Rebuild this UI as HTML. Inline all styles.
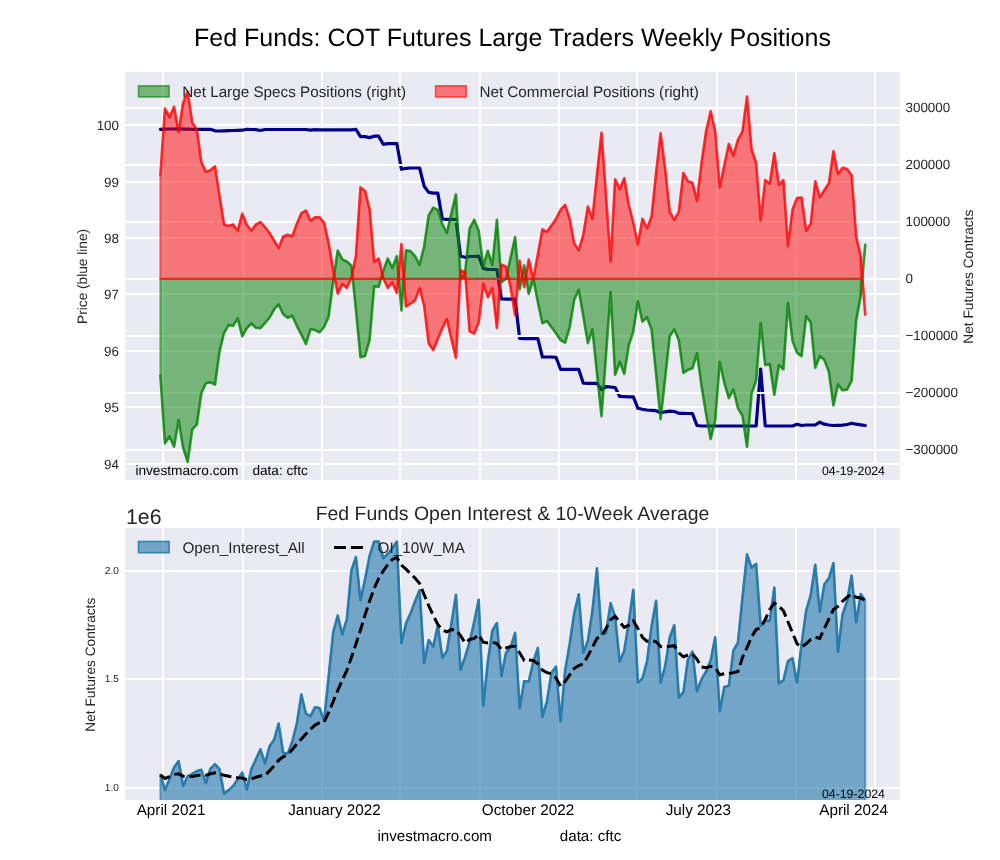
<!DOCTYPE html>
<html><head><meta charset="utf-8"><title>Fed Funds COT</title>
<style>html,body{margin:0;padding:0;background:#fff;}svg{display:block;text-rendering:geometricPrecision;}</style>
</head><body>
<svg style="will-change:transform" width="1000" height="860" viewBox="0 0 1000 860" font-family='"Liberation Sans", sans-serif'><rect x="0" y="0" width="1000" height="860" fill="#ffffff"/><text x="512.5" y="45.8" font-size="25" text-anchor="middle" fill="#000">Fed Funds: COT Futures Large Traders Weekly Positions</text><defs><clipPath id="ct"><rect x="125" y="72" width="775" height="408"/></clipPath><clipPath id="cb"><rect x="125" y="528" width="775" height="272"/></clipPath></defs><rect x="125" y="72" width="775" height="408" fill="#EAEAF2"/><g stroke="#ffffff" stroke-width="2"><line x1="163" y1="72" x2="163" y2="480"/><line x1="243" y1="72" x2="243" y2="480"/><line x1="322" y1="72" x2="322" y2="480"/><line x1="400" y1="72" x2="400" y2="480"/><line x1="480" y1="72" x2="480" y2="480"/><line x1="559" y1="72" x2="559" y2="480"/><line x1="637" y1="72" x2="637" y2="480"/><line x1="717" y1="72" x2="717" y2="480"/><line x1="796" y1="72" x2="796" y2="480"/><line x1="875" y1="72" x2="875" y2="480"/><line x1="125" y1="125" x2="900" y2="125"/><line x1="125" y1="182" x2="900" y2="182"/><line x1="125" y1="238" x2="900" y2="238"/><line x1="125" y1="294" x2="900" y2="294"/><line x1="125" y1="351" x2="900" y2="351"/><line x1="125" y1="407" x2="900" y2="407"/><line x1="125" y1="464" x2="900" y2="464"/></g><g font-size="13.4" fill="#262626" text-anchor="end"><text x="119" y="129.8">100</text><text x="119" y="186.8">99</text><text x="119" y="242.8">98</text><text x="119" y="298.8">97</text><text x="119" y="355.8">96</text><text x="119" y="411.8">95</text><text x="119" y="468.8">94</text></g><g font-size="13.4" fill="#262626"><text x="905.5" y="112.1">300000</text><text x="905.5" y="169.1">200000</text><text x="905.5" y="226.1">100000</text><text x="905.5" y="283.1">0</text><text x="905.5" y="340.1">−100000</text><text x="905.5" y="397.1">−200000</text><text x="905.5" y="454.1">−300000</text></g><text transform="translate(87,276.4) rotate(-90)" font-size="13.7" fill="#262626" text-anchor="middle">Price (blue line)</text><text transform="translate(973,276.7) rotate(-90)" font-size="13.7" fill="#262626" text-anchor="middle">Net Futures Contracts</text><g clip-path="url(#ct)"><polyline points="160.40,129.30 164.95,129.20 169.50,129.00 174.04,129.00 178.59,128.90 183.14,129.10 187.69,129.20 192.23,129.30 196.78,129.30 201.33,129.30 205.88,129.30 210.42,129.30 214.97,130.80 219.52,131.00 224.06,130.90 228.61,130.70 233.16,130.50 237.71,130.40 242.25,130.20 246.80,129.30 251.35,129.50 255.90,129.70 260.44,130.50 264.99,129.50 269.54,129.50 274.09,129.50 278.63,129.50 283.18,129.50 287.73,129.50 292.28,129.50 296.83,129.50 301.37,129.50 305.92,129.50 310.47,130.10 315.01,129.70 319.56,129.90 324.11,129.90 328.66,129.90 333.21,129.90 337.75,129.90 342.30,129.90 346.85,129.90 351.39,129.90 355.94,129.30 360.49,136.60 365.04,136.60 369.59,137.60 374.13,136.20 378.68,136.20 383.23,144.30 387.78,143.60 392.32,143.60 396.87,143.60 401.42,169.30 405.97,168.30 410.51,168.00 415.06,168.00 419.61,168.00 424.15,186.20 428.70,192.40 433.25,193.10 437.80,193.10 442.35,219.00 446.89,219.40 451.44,219.40 455.99,219.60 460.54,256.20 465.08,257.30 469.63,256.50 474.18,256.50 478.73,256.20 483.27,268.40 487.82,269.50 492.37,269.50 496.92,269.50 501.46,299.00 506.01,299.20 510.56,299.20 515.11,299.20 519.65,338.50 524.20,338.70 528.75,338.70 533.30,338.70 537.84,338.70 542.39,357.00 546.94,357.00 551.49,357.00 556.03,357.30 560.58,369.40 565.13,369.40 569.68,369.40 574.22,369.40 578.77,369.40 583.32,383.20 587.87,383.30 592.41,383.30 596.96,383.30 601.51,389.60 606.06,386.60 610.60,387.00 615.15,387.60 619.70,396.50 624.25,396.70 628.79,396.80 633.34,396.90 637.89,408.30 642.44,409.30 646.98,410.00 651.53,410.30 656.08,410.70 660.62,412.70 665.17,411.80 669.72,411.10 674.27,411.50 678.82,413.30 683.36,413.40 687.91,413.50 692.46,413.60 697.00,425.50 701.55,426.00 706.10,426.00 710.65,426.00 715.20,426.00 719.74,426.00 724.29,426.00 728.84,426.00 733.38,426.00 737.93,426.00 742.48,426.00 747.03,426.00 751.58,426.00 756.12,425.80 760.67,369.00 765.22,425.80 769.76,426.00 774.31,426.00 778.86,426.00 783.41,426.00 787.96,426.00 792.50,426.00 797.05,424.20 801.60,425.50 806.14,425.00 810.69,425.00 815.24,425.00 819.79,422.20 824.34,424.20 828.88,425.00 833.43,425.50 837.98,425.30 842.52,425.10 847.07,424.50 851.62,423.20 856.17,424.20 860.72,424.80 865.26,425.50" fill="none" stroke="#00008B" stroke-width="3.2" stroke-linejoin="round" stroke-linecap="round"/><g stroke="#ffffff" stroke-width="2"><line x1="125" y1="108" x2="900" y2="108"/><line x1="125" y1="165" x2="900" y2="165"/><line x1="125" y1="222" x2="900" y2="222"/><line x1="125" y1="279" x2="900" y2="279"/><line x1="125" y1="336" x2="900" y2="336"/><line x1="125" y1="393" x2="900" y2="393"/><line x1="125" y1="450" x2="900" y2="450"/></g><polygon points="160.40,278.9 160.40,375.80 164.95,443.30 169.50,436.30 174.04,446.70 178.59,420.00 183.14,447.90 187.69,461.90 192.23,429.30 196.78,424.70 201.33,393.30 205.88,383.30 210.42,382.30 214.97,384.70 219.52,351.40 224.06,332.80 228.61,325.10 233.16,325.80 237.71,318.40 242.25,336.30 246.80,328.10 251.35,323.50 255.90,327.70 260.44,328.10 264.99,323.00 269.54,317.70 274.09,309.50 278.63,304.40 283.18,314.20 287.73,317.70 292.28,315.80 296.83,325.80 301.37,334.70 305.92,344.00 310.47,329.30 315.01,330.00 319.56,332.30 324.11,327.00 328.66,316.40 333.21,281.00 337.75,250.50 342.30,259.40 346.85,261.50 351.39,265.60 355.94,309.50 360.49,357.20 365.04,356.00 369.59,339.80 374.13,286.30 378.68,286.70 383.23,271.00 387.78,258.50 392.32,268.00 396.87,256.20 401.42,310.50 405.97,250.40 410.51,251.10 415.06,256.20 419.61,265.00 424.15,246.30 428.70,215.40 433.25,207.60 437.80,209.80 442.35,224.20 446.89,233.00 451.44,213.10 455.99,194.40 460.54,279.40 465.08,272.80 469.63,228.60 474.18,219.80 478.73,230.80 483.27,266.20 487.82,250.80 492.37,265.00 496.92,219.80 501.46,282.30 506.01,278.80 510.56,257.90 515.11,237.00 519.65,289.30 524.20,265.50 528.75,294.00 533.30,278.80 537.84,302.00 542.39,323.20 546.94,321.00 551.49,327.30 556.03,333.20 560.58,340.20 565.13,342.70 569.68,327.30 574.22,299.60 578.77,289.80 583.32,316.40 587.87,343.10 592.41,329.30 596.96,372.80 601.51,416.20 606.06,354.20 610.60,292.10 615.15,374.70 619.70,361.90 624.25,373.80 628.79,345.10 633.34,331.30 637.89,301.20 642.44,321.60 646.98,317.20 651.53,329.30 656.08,373.80 660.62,419.20 665.17,377.70 669.72,336.20 674.27,329.30 678.82,340.20 683.36,372.80 687.91,369.80 692.46,368.30 697.00,353.20 701.55,386.00 706.10,414.00 710.65,439.00 715.20,420.20 719.74,361.70 724.29,382.70 728.84,398.10 733.38,389.30 737.93,408.10 742.48,415.80 747.03,446.80 751.58,393.70 756.12,380.50 760.67,323.00 765.22,365.00 769.76,363.90 774.31,394.80 778.86,365.00 783.41,369.40 787.96,303.10 792.50,340.70 797.05,352.90 801.60,356.10 806.14,316.40 810.69,322.40 815.24,367.80 819.79,356.00 824.34,359.90 828.88,371.80 833.43,405.40 837.98,384.20 842.52,390.20 847.07,389.60 851.62,380.70 856.17,320.40 860.72,295.70 860.72,278.9" fill="#008000" fill-opacity="0.5"/><path d="M160.40,375.80 L160.40,278.9 L860.72,278.9 L860.72,295.70" fill="none" stroke="#008000" stroke-opacity="0.5" stroke-width="2.2"/><polyline points="160.40,375.80 164.95,443.30 169.50,436.30 174.04,446.70 178.59,420.00 183.14,447.90 187.69,461.90 192.23,429.30 196.78,424.70 201.33,393.30 205.88,383.30 210.42,382.30 214.97,384.70 219.52,351.40 224.06,332.80 228.61,325.10 233.16,325.80 237.71,318.40 242.25,336.30 246.80,328.10 251.35,323.50 255.90,327.70 260.44,328.10 264.99,323.00 269.54,317.70 274.09,309.50 278.63,304.40 283.18,314.20 287.73,317.70 292.28,315.80 296.83,325.80 301.37,334.70 305.92,344.00 310.47,329.30 315.01,330.00 319.56,332.30 324.11,327.00 328.66,316.40 333.21,281.00 337.75,250.50 342.30,259.40 346.85,261.50 351.39,265.60 355.94,309.50 360.49,357.20 365.04,356.00 369.59,339.80 374.13,286.30 378.68,286.70 383.23,271.00 387.78,258.50 392.32,268.00 396.87,256.20 401.42,310.50 405.97,250.40 410.51,251.10 415.06,256.20 419.61,265.00 424.15,246.30 428.70,215.40 433.25,207.60 437.80,209.80 442.35,224.20 446.89,233.00 451.44,213.10 455.99,194.40 460.54,279.40 465.08,272.80 469.63,228.60 474.18,219.80 478.73,230.80 483.27,266.20 487.82,250.80 492.37,265.00 496.92,219.80 501.46,282.30 506.01,278.80 510.56,257.90 515.11,237.00 519.65,289.30 524.20,265.50 528.75,294.00 533.30,278.80 537.84,302.00 542.39,323.20 546.94,321.00 551.49,327.30 556.03,333.20 560.58,340.20 565.13,342.70 569.68,327.30 574.22,299.60 578.77,289.80 583.32,316.40 587.87,343.10 592.41,329.30 596.96,372.80 601.51,416.20 606.06,354.20 610.60,292.10 615.15,374.70 619.70,361.90 624.25,373.80 628.79,345.10 633.34,331.30 637.89,301.20 642.44,321.60 646.98,317.20 651.53,329.30 656.08,373.80 660.62,419.20 665.17,377.70 669.72,336.20 674.27,329.30 678.82,340.20 683.36,372.80 687.91,369.80 692.46,368.30 697.00,353.20 701.55,386.00 706.10,414.00 710.65,439.00 715.20,420.20 719.74,361.70 724.29,382.70 728.84,398.10 733.38,389.30 737.93,408.10 742.48,415.80 747.03,446.80 751.58,393.70 756.12,380.50 760.67,323.00 765.22,365.00 769.76,363.90 774.31,394.80 778.86,365.00 783.41,369.40 787.96,303.10 792.50,340.70 797.05,352.90 801.60,356.10 806.14,316.40 810.69,322.40 815.24,367.80 819.79,356.00 824.34,359.90 828.88,371.80 833.43,405.40 837.98,384.20 842.52,390.20 847.07,389.60 851.62,380.70 856.17,320.40 860.72,295.70 865.26,244.90" fill="none" stroke="#008000" stroke-opacity="0.8" stroke-width="2.6" stroke-linejoin="round" stroke-linecap="round"/><polygon points="160.40,278.9 160.40,174.90 164.95,108.60 169.50,117.40 174.04,106.70 178.59,132.30 183.14,102.80 187.69,91.50 192.23,122.60 196.78,129.50 201.33,162.10 205.88,171.90 210.42,170.20 214.97,166.30 219.52,196.00 224.06,224.40 228.61,226.00 233.16,224.40 237.71,230.70 242.25,213.70 246.80,224.90 251.35,230.70 255.90,224.40 260.44,222.10 264.99,227.20 269.54,233.00 274.09,240.70 278.63,248.10 283.18,236.50 287.73,234.70 292.28,236.50 296.83,223.70 301.37,213.30 305.92,210.50 310.47,220.70 315.01,217.40 319.56,217.40 324.11,222.60 328.66,243.50 333.21,270.00 337.75,293.60 342.30,283.90 346.85,288.00 351.39,277.80 355.94,255.70 360.49,187.40 365.04,191.00 369.59,209.50 374.13,261.90 378.68,258.50 383.23,278.00 387.78,288.00 392.32,282.20 396.87,293.00 401.42,244.00 405.97,306.50 410.51,303.70 415.06,300.40 419.61,288.30 424.15,305.90 428.70,343.50 433.25,350.10 437.80,339.10 442.35,328.00 446.89,319.20 451.44,339.10 455.99,357.90 460.54,270.60 465.08,271.70 469.63,331.30 474.18,333.60 478.73,322.50 483.27,283.80 487.82,297.20 492.37,288.20 496.92,328.00 501.46,264.70 506.01,266.60 510.56,287.00 515.11,315.40 519.65,260.70 524.20,287.10 528.75,259.60 533.30,279.70 537.84,254.30 542.39,229.40 546.94,231.80 551.49,225.50 556.03,218.80 560.58,209.90 565.13,205.00 569.68,218.80 574.22,243.50 578.77,250.40 583.32,234.60 587.87,206.60 592.41,218.80 596.96,175.00 601.51,132.80 606.06,197.00 610.60,261.30 615.15,179.30 619.70,189.20 624.25,178.30 628.79,205.00 633.34,222.80 637.89,244.50 642.44,218.80 646.98,228.30 651.53,216.80 656.08,173.00 660.62,133.40 665.17,169.40 669.72,211.90 674.27,219.80 678.82,211.90 683.36,173.00 687.91,181.30 692.46,182.70 697.00,201.00 701.55,163.00 706.10,131.30 710.65,111.30 715.20,131.30 719.74,187.40 724.29,165.50 728.84,144.00 733.38,155.70 737.93,139.80 742.48,131.30 747.03,96.60 751.58,149.60 756.12,163.00 760.67,220.40 765.22,180.10 769.76,183.80 774.31,153.30 778.86,185.00 783.41,180.10 787.96,246.10 792.50,209.40 797.05,198.00 801.60,197.50 806.14,230.70 810.69,223.80 815.24,181.30 819.79,197.10 824.34,190.20 828.88,183.20 833.43,151.20 837.98,174.30 842.52,167.80 847.07,169.00 851.62,175.30 856.17,236.60 860.72,256.40 860.72,278.9" fill="#ff0000" fill-opacity="0.5"/><path d="M160.40,174.90 L160.40,278.9 L860.72,278.9 L860.72,256.40" fill="none" stroke="#ff0000" stroke-opacity="0.5" stroke-width="2.2"/><polyline points="160.40,174.90 164.95,108.60 169.50,117.40 174.04,106.70 178.59,132.30 183.14,102.80 187.69,91.50 192.23,122.60 196.78,129.50 201.33,162.10 205.88,171.90 210.42,170.20 214.97,166.30 219.52,196.00 224.06,224.40 228.61,226.00 233.16,224.40 237.71,230.70 242.25,213.70 246.80,224.90 251.35,230.70 255.90,224.40 260.44,222.10 264.99,227.20 269.54,233.00 274.09,240.70 278.63,248.10 283.18,236.50 287.73,234.70 292.28,236.50 296.83,223.70 301.37,213.30 305.92,210.50 310.47,220.70 315.01,217.40 319.56,217.40 324.11,222.60 328.66,243.50 333.21,270.00 337.75,293.60 342.30,283.90 346.85,288.00 351.39,277.80 355.94,255.70 360.49,187.40 365.04,191.00 369.59,209.50 374.13,261.90 378.68,258.50 383.23,278.00 387.78,288.00 392.32,282.20 396.87,293.00 401.42,244.00 405.97,306.50 410.51,303.70 415.06,300.40 419.61,288.30 424.15,305.90 428.70,343.50 433.25,350.10 437.80,339.10 442.35,328.00 446.89,319.20 451.44,339.10 455.99,357.90 460.54,270.60 465.08,271.70 469.63,331.30 474.18,333.60 478.73,322.50 483.27,283.80 487.82,297.20 492.37,288.20 496.92,328.00 501.46,264.70 506.01,266.60 510.56,287.00 515.11,315.40 519.65,260.70 524.20,287.10 528.75,259.60 533.30,279.70 537.84,254.30 542.39,229.40 546.94,231.80 551.49,225.50 556.03,218.80 560.58,209.90 565.13,205.00 569.68,218.80 574.22,243.50 578.77,250.40 583.32,234.60 587.87,206.60 592.41,218.80 596.96,175.00 601.51,132.80 606.06,197.00 610.60,261.30 615.15,179.30 619.70,189.20 624.25,178.30 628.79,205.00 633.34,222.80 637.89,244.50 642.44,218.80 646.98,228.30 651.53,216.80 656.08,173.00 660.62,133.40 665.17,169.40 669.72,211.90 674.27,219.80 678.82,211.90 683.36,173.00 687.91,181.30 692.46,182.70 697.00,201.00 701.55,163.00 706.10,131.30 710.65,111.30 715.20,131.30 719.74,187.40 724.29,165.50 728.84,144.00 733.38,155.70 737.93,139.80 742.48,131.30 747.03,96.60 751.58,149.60 756.12,163.00 760.67,220.40 765.22,180.10 769.76,183.80 774.31,153.30 778.86,185.00 783.41,180.10 787.96,246.10 792.50,209.40 797.05,198.00 801.60,197.50 806.14,230.70 810.69,223.80 815.24,181.30 819.79,197.10 824.34,190.20 828.88,183.20 833.43,151.20 837.98,174.30 842.52,167.80 847.07,169.00 851.62,175.30 856.17,236.60 860.72,256.40 865.26,314.60" fill="none" stroke="#ff0000" stroke-opacity="0.8" stroke-width="2.6" stroke-linejoin="round" stroke-linecap="round"/></g><rect x="138.5" y="85.8" width="30.6" height="11.2" fill="#008000" fill-opacity="0.5" stroke="#008000" stroke-opacity="0.6" stroke-width="1.6"/><text x="182.2" y="96.7" font-size="15.25" fill="#262626">Net Large Specs Positions (right)</text><rect x="435.6" y="85.8" width="30.6" height="11.2" fill="#ff0000" fill-opacity="0.5" stroke="#ff0000" stroke-opacity="0.6" stroke-width="1.6"/><text x="479.4" y="96.7" font-size="15.25" fill="#262626">Net Commercial Positions (right)</text><text x="135.4" y="475" font-size="13.65" fill="#000">investmacro.com</text><text x="252.4" y="475" font-size="13.65" fill="#000">data: cftc</text><text x="822" y="474.7" font-size="12.3" fill="#000">04-19-2024</text><text x="512.5" y="520" font-size="19.45" text-anchor="middle" fill="#262626">Fed Funds Open Interest &amp; 10-Week Average</text><text x="126" y="523.8" font-size="21.3" fill="#262626">1e6</text><rect x="125" y="528" width="775" height="272" fill="#EAEAF2"/><g stroke="#ffffff" stroke-width="2"><line x1="163" y1="528" x2="163" y2="800"/><line x1="243" y1="528" x2="243" y2="800"/><line x1="322" y1="528" x2="322" y2="800"/><line x1="400" y1="528" x2="400" y2="800"/><line x1="480" y1="528" x2="480" y2="800"/><line x1="559" y1="528" x2="559" y2="800"/><line x1="637" y1="528" x2="637" y2="800"/><line x1="717" y1="528" x2="717" y2="800"/><line x1="796" y1="528" x2="796" y2="800"/><line x1="875" y1="528" x2="875" y2="800"/><line x1="125" y1="571" x2="900" y2="571"/><line x1="125" y1="679" x2="900" y2="679"/><line x1="125" y1="788" x2="900" y2="788"/></g><g font-size="10.2" fill="#262626" text-anchor="end"><text x="119" y="573.7">2.0</text><text x="119" y="681.7">1.5</text><text x="119" y="790.7">1.0</text></g><text transform="translate(95.3,664.7) rotate(-90)" font-size="13.7" fill="#262626" text-anchor="middle">Net Futures Contracts</text><g clip-path="url(#cb)"><polygon points="160.40,900 160.40,774.40 164.95,790.10 169.50,779.00 174.04,767.40 178.59,761.00 183.14,786.00 187.69,776.20 192.23,773.80 196.78,771.00 201.33,769.80 205.88,783.10 210.42,768.60 214.97,764.20 219.52,769.20 224.06,793.60 228.61,790.10 233.16,786.00 237.71,779.10 242.25,772.50 246.80,789.50 251.35,769.10 255.90,759.30 260.44,749.30 264.99,763.40 269.54,746.30 274.09,739.80 278.63,723.50 283.18,752.80 287.73,753.60 292.28,741.40 296.83,723.50 301.37,694.50 305.92,713.70 310.47,716.20 315.01,707.20 319.56,708.00 324.11,720.80 328.66,676.40 333.21,632.20 337.75,615.60 342.30,634.40 346.85,619.00 351.39,570.40 355.94,557.10 360.49,600.20 365.04,579.20 369.59,556.00 374.13,541.60 378.68,541.60 383.23,558.20 387.78,553.80 392.32,548.30 396.87,541.60 401.42,643.30 405.97,623.40 410.51,613.40 415.06,601.30 419.61,590.20 424.15,663.10 428.70,640.00 433.25,646.60 437.80,625.60 442.35,657.60 446.89,651.00 451.44,623.40 455.99,594.70 460.54,669.80 465.08,657.00 469.63,642.00 474.18,621.90 478.73,599.80 483.27,705.80 487.82,661.60 492.37,630.70 496.92,623.00 501.46,676.00 506.01,652.80 510.56,647.30 515.11,632.90 519.65,708.00 524.20,681.10 528.75,681.50 533.30,661.60 537.84,647.90 542.39,716.90 546.94,701.40 551.49,672.70 556.03,666.50 560.58,721.30 565.13,670.50 569.68,644.00 574.22,613.00 578.77,594.20 583.32,652.80 587.87,640.60 592.41,610.80 596.96,568.40 601.51,634.00 606.06,632.90 610.60,603.10 615.15,616.80 619.70,661.80 624.25,650.60 628.79,621.90 633.34,589.80 637.89,682.60 642.44,678.20 646.98,661.60 651.53,626.30 656.08,600.90 660.62,682.60 665.17,666.10 669.72,637.30 674.27,625.20 678.82,697.40 683.36,692.10 687.91,659.40 692.46,651.60 697.00,691.30 701.55,679.20 706.10,671.50 710.65,660.40 715.20,637.20 719.74,711.20 724.29,686.90 728.84,685.80 733.38,650.50 737.93,642.70 742.48,597.40 747.03,554.40 751.58,567.60 756.12,563.90 760.67,626.00 765.22,620.50 769.76,620.70 774.31,587.50 778.86,683.20 783.41,680.30 787.96,661.10 792.50,658.20 797.05,682.50 801.60,643.80 806.14,610.70 810.69,595.20 815.24,564.70 819.79,611.80 824.34,584.20 828.88,578.40 833.43,563.00 837.98,652.00 842.52,614.50 847.07,601.20 851.62,575.60 856.17,622.30 860.72,594.10 865.26,600.50 865.26,900" fill="#2277aa" fill-opacity="0.6" stroke="#2277aa" stroke-opacity="0.6" stroke-width="2" stroke-linejoin="round"/><polyline points="160.40,774.40 164.95,790.10 169.50,779.00 174.04,767.40 178.59,761.00 183.14,786.00 187.69,776.20 192.23,773.80 196.78,771.00 201.33,769.80 205.88,783.10 210.42,768.60 214.97,764.20 219.52,769.20 224.06,793.60 228.61,790.10 233.16,786.00 237.71,779.10 242.25,772.50 246.80,789.50 251.35,769.10 255.90,759.30 260.44,749.30 264.99,763.40 269.54,746.30 274.09,739.80 278.63,723.50 283.18,752.80 287.73,753.60 292.28,741.40 296.83,723.50 301.37,694.50 305.92,713.70 310.47,716.20 315.01,707.20 319.56,708.00 324.11,720.80 328.66,676.40 333.21,632.20 337.75,615.60 342.30,634.40 346.85,619.00 351.39,570.40 355.94,557.10 360.49,600.20 365.04,579.20 369.59,556.00 374.13,541.60 378.68,541.60 383.23,558.20 387.78,553.80 392.32,548.30 396.87,541.60 401.42,643.30 405.97,623.40 410.51,613.40 415.06,601.30 419.61,590.20 424.15,663.10 428.70,640.00 433.25,646.60 437.80,625.60 442.35,657.60 446.89,651.00 451.44,623.40 455.99,594.70 460.54,669.80 465.08,657.00 469.63,642.00 474.18,621.90 478.73,599.80 483.27,705.80 487.82,661.60 492.37,630.70 496.92,623.00 501.46,676.00 506.01,652.80 510.56,647.30 515.11,632.90 519.65,708.00 524.20,681.10 528.75,681.50 533.30,661.60 537.84,647.90 542.39,716.90 546.94,701.40 551.49,672.70 556.03,666.50 560.58,721.30 565.13,670.50 569.68,644.00 574.22,613.00 578.77,594.20 583.32,652.80 587.87,640.60 592.41,610.80 596.96,568.40 601.51,634.00 606.06,632.90 610.60,603.10 615.15,616.80 619.70,661.80 624.25,650.60 628.79,621.90 633.34,589.80 637.89,682.60 642.44,678.20 646.98,661.60 651.53,626.30 656.08,600.90 660.62,682.60 665.17,666.10 669.72,637.30 674.27,625.20 678.82,697.40 683.36,692.10 687.91,659.40 692.46,651.60 697.00,691.30 701.55,679.20 706.10,671.50 710.65,660.40 715.20,637.20 719.74,711.20 724.29,686.90 728.84,685.80 733.38,650.50 737.93,642.70 742.48,597.40 747.03,554.40 751.58,567.60 756.12,563.90 760.67,626.00 765.22,620.50 769.76,620.70 774.31,587.50 778.86,683.20 783.41,680.30 787.96,661.10 792.50,658.20 797.05,682.50 801.60,643.80 806.14,610.70 810.69,595.20 815.24,564.70 819.79,611.80 824.34,584.20 828.88,578.40 833.43,563.00 837.98,652.00 842.52,614.50 847.07,601.20 851.62,575.60 856.17,622.30 860.72,594.10 865.26,600.50" fill="none" stroke="#2277aa" stroke-opacity="0.88" stroke-width="2.6" stroke-linejoin="round"/><polyline points="160.40,775.00 164.95,778.50 169.50,776.70 174.04,774.40 178.59,773.80 183.14,776.20 187.69,776.70 192.23,776.50 196.78,775.60 201.33,775.00 205.88,775.30 210.42,773.80 214.97,772.70 219.52,773.80 224.06,775.30 228.61,776.20 233.16,777.00 237.71,777.70 242.25,778.00 246.80,779.70 251.35,778.90 255.90,777.30 260.44,776.00 264.99,775.60 269.54,770.70 274.09,765.90 278.63,760.20 283.18,756.90 287.73,754.50 292.28,749.60 296.83,743.90 301.37,739.00 305.92,734.10 310.47,729.20 315.01,725.10 319.56,722.70 324.11,722.00 328.66,712.50 333.21,701.50 337.75,690.50 342.30,680.00 346.85,670.50 351.39,657.50 355.94,644.00 360.49,630.00 365.04,615.00 369.59,601.00 374.13,588.50 378.68,578.50 383.23,571.00 387.78,564.50 392.32,559.50 396.87,557.40 401.42,565.00 405.97,569.20 410.51,573.70 415.06,578.10 419.61,583.60 424.15,594.70 428.70,605.70 433.25,615.60 437.80,624.50 442.35,630.00 446.89,631.80 451.44,629.60 455.99,630.00 460.54,635.50 465.08,643.00 469.63,639.50 474.18,638.40 478.73,634.70 483.27,642.20 487.82,642.90 492.37,642.20 496.92,643.50 501.46,649.50 506.01,648.00 510.56,646.60 515.11,646.20 519.65,652.80 524.20,660.50 528.75,659.90 533.30,660.50 537.84,663.80 542.39,670.00 546.94,672.70 551.49,673.80 556.03,678.20 560.58,685.90 565.13,681.50 569.68,674.90 574.22,668.30 578.77,665.60 583.32,663.80 587.87,656.10 592.41,647.30 596.96,638.40 601.51,636.20 606.06,628.50 610.60,619.70 615.15,616.30 619.70,621.90 624.25,627.40 628.79,625.20 633.34,620.80 637.89,628.50 642.44,637.30 646.98,641.30 651.53,640.60 656.08,641.80 660.62,646.60 665.17,647.30 669.72,646.20 674.27,645.70 678.82,652.80 683.36,656.80 687.91,655.00 692.46,653.90 697.00,659.30 701.55,667.00 706.10,667.70 710.65,666.40 715.20,667.70 719.74,674.80 724.29,673.70 728.84,673.70 733.38,672.60 737.93,671.50 742.48,657.50 747.03,647.50 751.58,637.00 756.12,629.50 760.67,627.50 765.22,619.50 769.76,609.60 774.31,603.00 778.86,606.30 783.41,610.70 787.96,621.80 792.50,632.80 797.05,643.80 801.60,647.20 806.14,643.80 810.69,639.40 815.24,637.20 819.79,638.50 824.34,628.40 828.88,619.00 833.43,609.50 837.98,606.30 842.52,601.20 847.07,597.30 851.62,594.10 856.17,597.30 860.72,598.00 865.26,600.50" fill="none" stroke="#000" stroke-width="3" stroke-dasharray="11.1 4.8"/></g><rect x="138.5" y="541.5" width="30.6" height="11.2" fill="#2277aa" fill-opacity="0.6" stroke="#2277aa" stroke-opacity="0.85" stroke-width="1.6"/><text x="182.5" y="553" font-size="15.25" fill="#262626">Open_Interest_All</text><line x1="334" y1="547.5" x2="363" y2="547.5" stroke="#000" stroke-width="3.1" stroke-dasharray="12 4.9"/><text x="377.6" y="553" font-size="15.25" fill="#262626">OI_10W_MA</text><text x="822" y="797.8" font-size="12.3" fill="#000">04-19-2024</text><text x="171.0" y="814.8" font-size="15.28" text-anchor="middle" fill="#000">April 2021</text><text x="334.5" y="814.8" font-size="15.28" text-anchor="middle" fill="#000">January 2022</text><text x="528.1" y="814.8" font-size="15.28" text-anchor="middle" fill="#000">October 2022</text><text x="698.4" y="814.8" font-size="15.28" text-anchor="middle" fill="#000">July 2023</text><text x="853.6" y="814.8" font-size="15.28" text-anchor="middle" fill="#000">April 2024</text><text x="377.5" y="840.5" font-size="15.15" fill="#000">investmacro.com</text><text x="559.8" y="840.5" font-size="15.15" fill="#000">data: cftc</text></svg>
</body></html>
